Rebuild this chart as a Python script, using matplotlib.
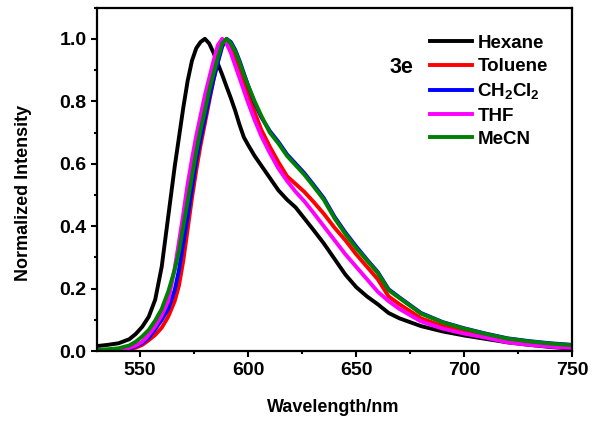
import matplotlib
matplotlib.use("Agg")
import matplotlib.pyplot as plt
from matplotlib.ticker import MultipleLocator

plt.rcParams["font.family"] = ["Liberation Sans", "DejaVu Sans"]
plt.rcParams["font.weight"] = "bold"
plt.rcParams["mathtext.fontset"] = "custom"
plt.rcParams["mathtext.rm"] = "Liberation Sans:bold"
plt.rcParams["mathtext.default"] = "rm"

# emission spectra of 3e, normalized
wavelength = [530, 535, 540, 545, 548, 551, 554, 557, 560, 563, 566, 568, 570, 572, 574,
              576, 578, 580, 582, 584, 586, 588, 590, 592, 594, 596, 598, 600, 603, 606,
              610, 614, 618, 622, 626, 630, 635, 640, 645, 650, 655, 660, 665, 670, 680,
              690, 700, 710, 720, 730, 740, 750]

hexane = [0.016, 0.020, 0.025, 0.038, 0.055, 0.078, 0.11, 0.165, 0.27, 0.43, 0.59, 0.685,
          0.78, 0.865, 0.93, 0.97, 0.99, 1.0, 0.985, 0.955, 0.92, 0.885, 0.847, 0.81, 0.77,
          0.725, 0.685, 0.66, 0.625, 0.595, 0.555, 0.515, 0.485, 0.46, 0.425, 0.39, 0.345,
          0.295, 0.245, 0.205, 0.175, 0.15, 0.122, 0.105, 0.08, 0.063, 0.05, 0.039, 0.028,
          0.02, 0.013, 0.008]

toluene = [0.001, 0.002, 0.003, 0.006, 0.011, 0.02, 0.035, 0.052, 0.075, 0.11, 0.16, 0.21,
           0.29, 0.39, 0.49, 0.58, 0.66, 0.73, 0.80, 0.87, 0.93, 0.985, 0.995, 0.975, 0.94,
           0.905, 0.865, 0.825, 0.765, 0.71, 0.655, 0.605, 0.56, 0.535, 0.51, 0.48, 0.44,
           0.395, 0.355, 0.31, 0.27, 0.23, 0.175, 0.15, 0.105, 0.08, 0.062, 0.047, 0.032,
           0.024, 0.018, 0.013]

ch2cl2 = [0.002, 0.003, 0.005, 0.008, 0.015, 0.026, 0.043, 0.07, 0.10, 0.135, 0.195, 0.26,
          0.345, 0.43, 0.52, 0.61, 0.68, 0.745, 0.81, 0.87, 0.925, 0.975, 1.0, 0.99, 0.965,
          0.93, 0.89, 0.85, 0.795, 0.75, 0.705, 0.67, 0.63, 0.60, 0.57, 0.535, 0.49, 0.43,
          0.38, 0.335, 0.293, 0.253, 0.198, 0.172, 0.122, 0.093, 0.073, 0.056, 0.041, 0.032,
          0.025, 0.02]

thf = [0.002, 0.003, 0.005, 0.01, 0.018, 0.03, 0.052, 0.08, 0.115, 0.16, 0.265, 0.35, 0.44,
       0.535, 0.615, 0.69, 0.755, 0.82, 0.875, 0.93, 0.98, 1.0, 0.985, 0.955, 0.915, 0.875,
       0.835, 0.795, 0.74, 0.69, 0.635, 0.585, 0.545, 0.51, 0.48, 0.445, 0.40, 0.355, 0.31,
       0.27, 0.23, 0.19, 0.16, 0.135, 0.095, 0.072, 0.056, 0.043, 0.028, 0.02, 0.014, 0.01]

mecn = [0.004, 0.006, 0.009, 0.018, 0.03, 0.047, 0.068, 0.098, 0.135, 0.19, 0.26, 0.32,
        0.40, 0.48, 0.56, 0.64, 0.71, 0.77, 0.835, 0.89, 0.94, 0.985, 1.0, 0.985, 0.96,
        0.925, 0.885, 0.85, 0.80, 0.755, 0.70, 0.665, 0.625, 0.595, 0.565, 0.53, 0.485,
        0.425, 0.375, 0.33, 0.29, 0.25, 0.195, 0.17, 0.12, 0.092, 0.072, 0.055, 0.04,
        0.031, 0.024, 0.019]

labels = ["Hexane", "Toluene", "CH$_2$Cl$_2$", "THF", "MeCN"]
colors = ["black", "#ff0000", "#0000ff", "#ff00ff", "#008000"]


def main() -> None:
    fig = plt.figure(figsize=(5.98, 4.22), dpi=100)
    ax = fig.add_axes([0.162, 0.168, 0.795, 0.814])

    for series, label, color in zip([hexane, toluene, ch2cl2, thf, mecn], labels, colors):
        ax.plot(wavelength, series, color=color, lw=2.8, label=label)

    ax.set_xlim(530, 750)
    ax.set_ylim(0, 1.1)
    ax.xaxis.set_major_locator(MultipleLocator(50))
    ax.xaxis.set_minor_locator(MultipleLocator(25))
    ax.yaxis.set_major_locator(MultipleLocator(0.2))
    ax.yaxis.set_minor_locator(MultipleLocator(0.1))
    ax.yaxis.set_major_formatter(plt.FormatStrFormatter("%.1f"))
    ax.tick_params(which="major", direction="out", length=4.5, width=1.5, labelsize=14, pad=3)
    ax.tick_params(which="minor", direction="out", length=2.5, width=1.5)
    for spine in ax.spines.values():
        spine.set_linewidth(1.6)

    ax.set_xlabel("Wavelength/nm", fontsize=13, fontweight="bold", va="top")
    ax.xaxis.set_label_coords(0.498, -0.138)
    ax.set_ylabel("Normalized Intensity", fontsize=13, fontweight="bold")
    ax.yaxis.set_label_coords(-0.137, 0.46)

    ax.legend(loc="upper left", bbox_to_anchor=(0.70, 0.921), frameon=False, fontsize=13.5,
              handlelength=2.25, handletextpad=0.3, labelspacing=0.33, borderpad=0,
              borderaxespad=0)
    ax.text(0.64, 0.827, "3e", transform=ax.transAxes, fontsize=15.5, fontweight="bold",
            ha="center", va="center")

    fig.savefig("out.png", dpi=100)
    plt.close(fig)


if __name__ == "__main__":
    main()
